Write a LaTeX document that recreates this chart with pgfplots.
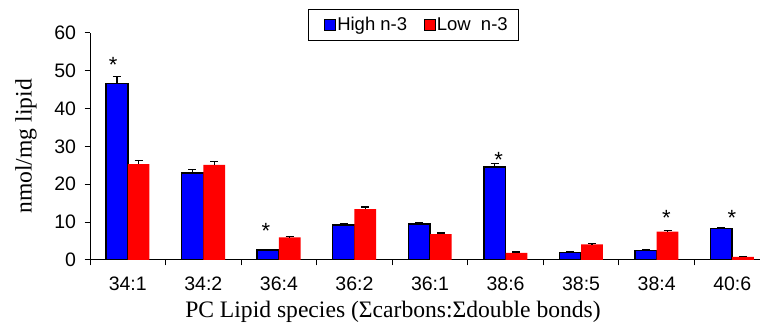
\documentclass[border=0pt]{standalone}
\usepackage{pgfplots}
\pgfplotsset{compat=1.18}
\usepackage{fontspec}
\setmainfont{Liberation Serif}
\newfontfamily\arial{Liberation Sans}
\begin{document}
\begin{tikzpicture}[x=1pt,y=1pt]
\useasboundingbox (0,0) rectangle (760,323);
\begin{axis}[
  at={(90pt,63pt)}, anchor=south west,
  scale only axis, width=680pt, height=227.3pt,
  xmin=-0.5, xmax=8.5, ymin=0, ymax=60,
  axis x line=bottom, axis y line=left,
  axis line style={-, line width=1pt, black},
  tick align=outside, major tick length=5.5pt,
  tick style={black, line width=1pt},
  xtick={-0.5,0.5,...,8.5}, x tick label as interval,
  xticklabels={34:1,34:2,36:4,36:2,36:1,38:6,38:5,38:4,40:6},
  ytick={0,10,...,60},
  /pgf/number format/assume math mode=true,
  tick label style={font=\arial\fontsize{19.5}{21}\selectfont},
  xticklabel style={yshift=-8pt},
  yticklabel style={xshift=-5pt},
  ybar=0pt, bar width=21.7pt,
  ylabel={nmol/mg lipid},
  ylabel style={at={(axis description cs:-0.094,0.5)}, anchor=center, font=\fontsize{23.6}{26}\selectfont},
  xlabel={PC Lipid species (Σcarbons:Σdouble bonds)},
  xlabel style={at={(axis description cs:0.4456,-0.253)}, anchor=base, font=\fontsize{23.6}{26}\selectfont},
  legend style={at={(axis description cs:0.4755,1.1043)}, anchor=north,
    legend columns=2, draw=black, line width=0.8pt,
    font=\arial\fontsize{18.5}{20}\selectfont,
    inner xsep=10pt, inner ysep=5pt,
    nodes={inner xsep=1pt, inner ysep=3pt},
    /tikz/every even column/.append style={column sep=10pt}},
  legend image code/.code={\path (0pt,0pt); \draw[#1, line width=1.2pt] (6pt,-5.5pt) rectangle (17pt,5.5pt);},
]
\addplot[fill=blue, draw=black, line width=1.5pt,
  error bars/.cd, y dir=plus, y explicit,
  error bar style={line width=1.2pt, black},
  error mark options={black, line width=1.2pt, mark size=4pt, rotate=90}]
coordinates {
(0,46.6) +- (0,1.9)
(1,23.0) +- (0,0.9)
(2,2.6) +- (0,0.2)
(3,9.3) +- (0,0.4)
(4,9.5) +- (0,0.4)
(5,24.5) +- (0,1.0)
(6,2.0) +- (0,0.2)
(7,2.5) +- (0,0.2)
(8,8.35) +- (0,0.25)
};
\addlegendentry{High n-3}
\addplot[fill=red, draw=none,
  error bars/.cd, y dir=plus, y explicit,
  error bar style={line width=1.2pt, black},
  error mark options={black, line width=1.2pt, mark size=4pt, rotate=90}]
coordinates {
(0,25.3) +- (0,1.0)
(1,25.1) +- (0,1.0)
(2,6.0) +- (0,0.2)
(3,13.4) +- (0,0.6)
(4,6.85) +- (0,0.25)
(5,1.9) +- (0,0.2)
(6,4.1) +- (0,0.2)
(7,7.5) +- (0,0.2)
(8,0.8) +- (0,0.2)
};
\addlegendentry{Low\ \ n-3}
\addplot[forget plot, sharp plot, draw=none, mark=none, /pgf/bar shift=0pt,
  nodes near coords={*},
  every node near coord/.style={anchor=base, inner sep=0pt, font=\arial\fontsize{22}{24}\selectfont}]
coordinates {(-0.192,49.6) (1.828,5.8) (4.910,24.3) (7.128,9.2) (7.996,9.2)};
\end{axis}
\end{tikzpicture}
\end{document}
